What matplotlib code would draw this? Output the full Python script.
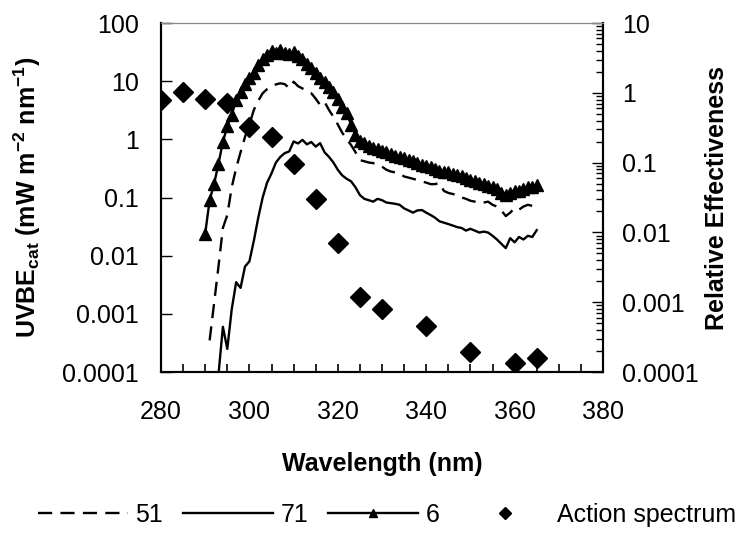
import numpy as np
import matplotlib
matplotlib.use("Agg")
import matplotlib.pyplot as plt
from matplotlib.ticker import LogLocator, NullLocator, FixedLocator, FuncFormatter

plt.rcParams['font.family'] = ['Liberation Sans', 'DejaVu Sans']
plt.rcParams['mathtext.fontset'] = 'custom'
plt.rcParams['mathtext.rm'] = 'Liberation Sans'
plt.rcParams['mathtext.bf'] = 'Liberation Sans:bold'
plt.rcParams['mathtext.default'] = 'bf'
matplotlib.rc('font', size=18)

# series "6" (triangles), 290-365 nm
wl_6 = np.arange(290, 366)
uvbe_6 = [0.024, 0.09, 0.17, 0.38, 0.9, 1.7, 2.6, 4.8, 6.5, 8.8,
          11.5, 14, 19, 24, 28, 33, 30, 34, 31, 29,
          32, 27, 24, 20, 17, 14, 11.5, 9.5, 7.8, 6.5,
          5.0, 3.6, 2.8, 1.8, 1.2, 0.95, 0.85, 0.78, 0.72, 0.68,
          0.62, 0.6, 0.56, 0.52, 0.5, 0.47, 0.45, 0.42, 0.39, 0.36,
          0.35, 0.33, 0.31, 0.29, 0.28, 0.27, 0.25, 0.24, 0.23, 0.22,
          0.2, 0.19, 0.18, 0.17, 0.16, 0.15, 0.14, 0.12, 0.11, 0.12,
          0.13, 0.13, 0.14, 0.15, 0.15, 0.165]

# series "51" (dashed), 291-365 nm
wl_51 = np.arange(291, 366)
uvbe_51 = [0.00035, 0.0015, 0.0065, 0.03, 0.05, 0.15, 0.32, 0.6, 1.1,
           1.8, 3.2, 4.6, 6.2, 7.3, 8.2, 8.8, 9.2, 8.9, 7.6,
           9.8, 8.2, 7.5, 6.8, 6.2, 5.0, 3.9, 4.4, 3.2, 2.45,
           1.8, 1.3, 1.0, 0.8, 0.6, 0.44, 0.42, 0.4, 0.39, 0.37,
           0.34, 0.3, 0.28, 0.27, 0.26, 0.23, 0.22, 0.21, 0.2, 0.19,
           0.18, 0.17, 0.17, 0.178, 0.13, 0.12, 0.115, 0.11, 0.1, 0.095,
           0.088, 0.085, 0.08, 0.082, 0.085, 0.075, 0.07, 0.06, 0.048, 0.055,
           0.066, 0.062, 0.07, 0.075, 0.072, 0.078]

# series "71" (solid), 293-365 nm
wl_71 = np.arange(293, 366)
uvbe_71 = [0.00009, 0.0006, 0.00025, 0.0012, 0.0035, 0.0028, 0.0065,
           0.008, 0.018, 0.045, 0.1, 0.18, 0.26, 0.4, 0.5, 0.58, 0.62,
           0.92, 0.85, 0.98, 0.82, 0.9, 0.75, 0.86, 0.6, 0.5, 0.4,
           0.3, 0.24, 0.21, 0.19, 0.15, 0.11, 0.095, 0.09, 0.085, 0.095,
           0.09, 0.082, 0.08, 0.078, 0.075, 0.065, 0.06, 0.055, 0.06, 0.061,
           0.055, 0.05, 0.045, 0.039, 0.037, 0.035, 0.033, 0.031, 0.03, 0.027,
           0.029, 0.027, 0.025, 0.026, 0.025, 0.022, 0.019, 0.016, 0.0135, 0.02,
           0.017, 0.021, 0.019, 0.022, 0.021, 0.0275]

# action spectrum (right axis)
wl_action = [280, 285, 290, 295, 300, 305, 310, 315, 320, 325, 330, 340, 350, 360, 365]
action = [0.79, 1.02, 0.81, 0.72, 0.32, 0.23, 0.095, 0.030, 0.0070,
          0.00117, 0.00079, 0.00045, 0.000195, 0.000133, 0.00016]

left_ticks = [0.0001, 0.001, 0.01, 0.1, 1, 10, 100]
right_ticks = [0.0001, 0.001, 0.01, 0.1, 1, 10]


def plain(v, pos):
    return f"{v:g}" if v >= 1 else f"{v:.{int(round(-np.log10(v)))}f}"


fig = plt.figure(figsize=(7.44, 5.4), dpi=100)
ax = fig.add_axes([0.2164, 0.311, 0.5941, 0.6464])
ax2 = ax.twinx()

l51, = ax.plot(wl_51, uvbe_51, color='black', lw=1.7, dashes=(6, 3.5), label='51')
l71, = ax.plot(wl_71, uvbe_71, color='black', lw=1.7, label='71')
l6, = ax.plot(wl_6, uvbe_6, color='black', lw=1.7, marker='^', ms=9, label='6')
la, = ax2.plot(wl_action, action, ls='none', marker='D', ms=10, color='black',
               label='Action spectrum')

ax.set_yscale('log')
ax.set_ylim(0.0001, 100)
ax.set_xlim(280, 380)
ax.set_xticks(np.arange(280, 381, 20))
ax.xaxis.set_minor_locator(FixedLocator(np.arange(280, 381, 5)))
ax.yaxis.set_major_locator(FixedLocator(left_ticks))
ax.yaxis.set_minor_locator(NullLocator())
ax.yaxis.set_major_formatter(FuncFormatter(plain))
ax.tick_params(axis='x', which='both', direction='in', length=6, width=1.2, pad=20)
ax.tick_params(axis='y', which='major', direction='in', length=8, width=1, pad=16)

ax2.set_yscale('log')
ax2.set_ylim(0.0001, 10)
ax2.yaxis.set_major_locator(FixedLocator(right_ticks))
ax2.yaxis.set_minor_locator(LogLocator(base=10, subs=np.arange(2, 10)))
ax2.yaxis.set_minor_formatter(plt.NullFormatter())
ax2.yaxis.set_major_formatter(FuncFormatter(plain))
ax2.tick_params(axis='y', which='major', direction='in', length=8, width=1, pad=14)
ax2.tick_params(axis='y', which='minor', direction='in', length=5, width=1)

for a in (ax, ax2):
    a.spines['top'].set_color('#888888')
    a.spines['left'].set_linewidth(1.5)
    a.spines['bottom'].set_linewidth(1.5)
    a.spines['right'].set_linewidth(1.5)

ax.set_xlabel('Wavelength (nm)', fontweight='bold', fontsize=18, labelpad=20)
ax.set_ylabel(r'UVBE$_{cat}$ (mW m$^{-2}$ nm$^{-1}$)', fontweight='bold', fontsize=18, labelpad=14)
ax2.set_ylabel('Relative Effectiveness', fontweight='bold', fontsize=18, labelpad=4)

fig.legend(handles=[l51, l71, l6, la], loc='center', bbox_to_anchor=(0.52, 0.046),
           ncol=4, frameon=False, handlelength=3.6, handletextpad=0.3,
           columnspacing=0.8, fontsize=18, markerscale=0.6)

fig.savefig('out.png', dpi=100)
